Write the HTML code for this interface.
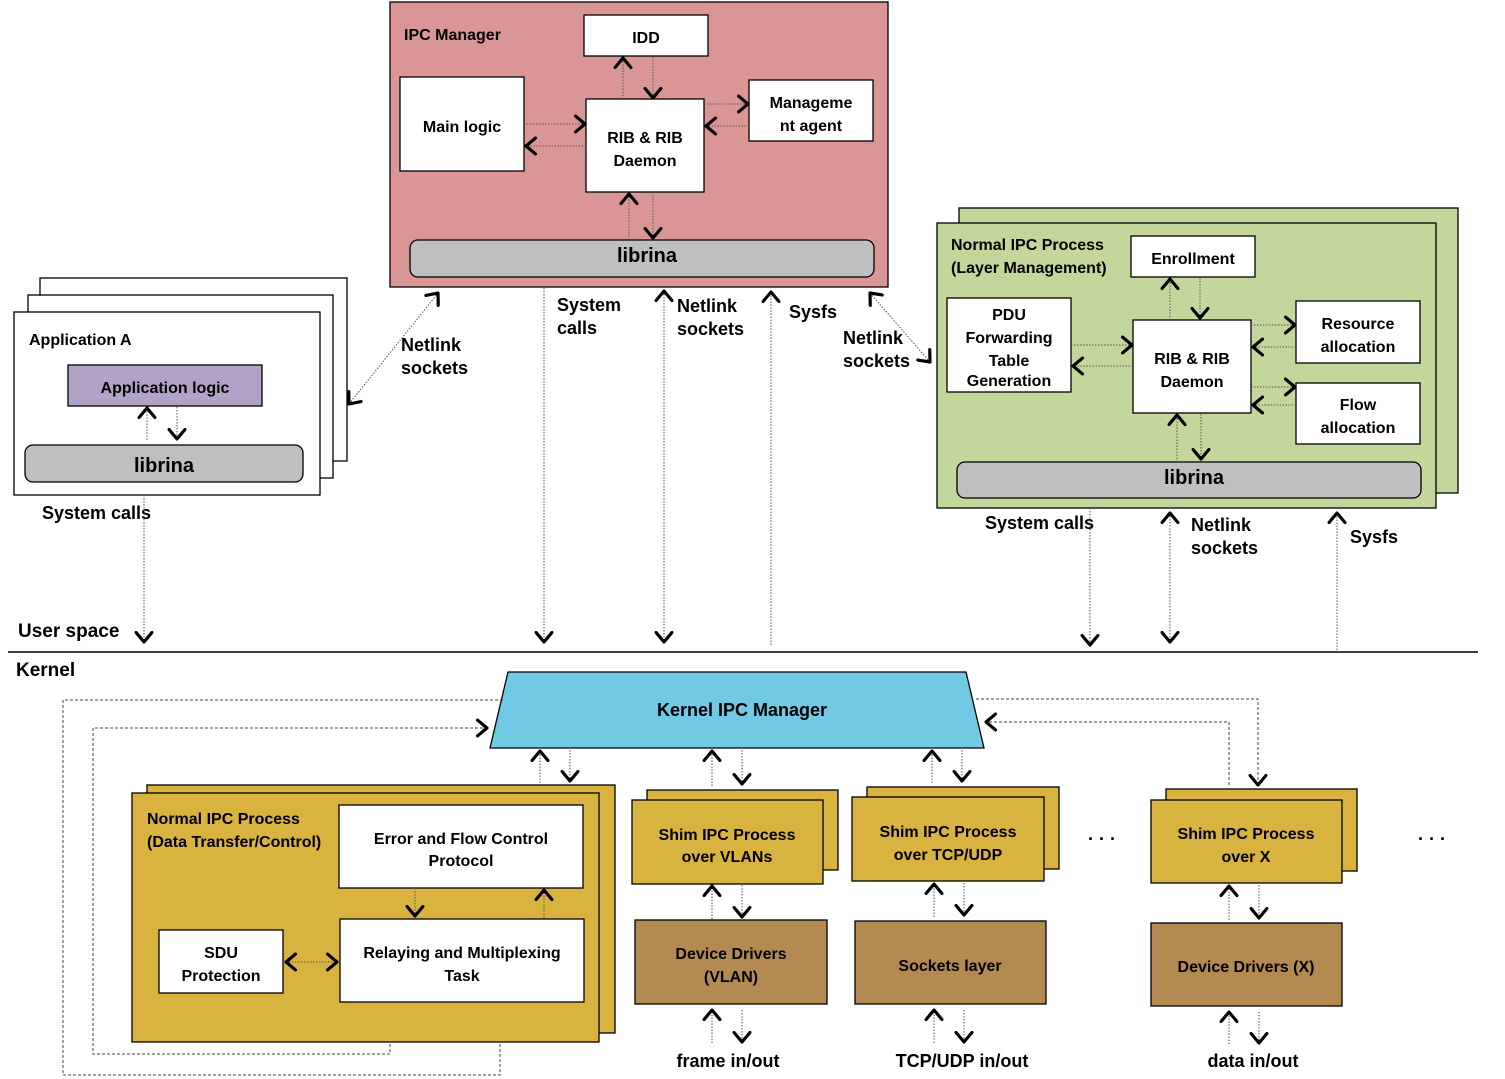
<!DOCTYPE html>
<html><head><meta charset="utf-8"><style>
html,body{margin:0;padding:0;background:#fff}
svg{display:block}
text{font-family:"Liberation Sans",Arial,sans-serif;font-weight:bold;fill:#000}
.b{font-size:16px}
.l{font-size:18px}
.lib{font-size:20px}
.d{stroke:#555;stroke-width:1;stroke-dasharray:1.5,1.5;fill:none}
.dk{stroke:#444;stroke-width:1;stroke-dasharray:3,2;fill:none}
.w{fill:#fff;stroke:#000;stroke-width:1.3}
</style></head><body>
<svg width="1505" height="1079" viewBox="0 0 1505 1079" xmlns="http://www.w3.org/2000/svg">
<defs>
<marker id="a" viewBox="0 0 12 18" refX="10.5" refY="9" markerWidth="13" markerHeight="19" markerUnits="userSpaceOnUse" orient="auto-start-reverse">
<path d="M1.5,1.5 L10.5,9 L1.5,16.5" fill="none" stroke="#000" stroke-width="3" stroke-linecap="round" stroke-linejoin="round"/>
</marker>
</defs>

<!-- IPC Manager -->
<rect x="390" y="2" width="498" height="285" fill="#d99694" stroke="#000" stroke-width="1.3"/>
<text x="404" y="40" class="b">IPC Manager</text>
<rect x="584" y="15" width="124" height="41" class="w"/><text x="646" y="43" class="b" text-anchor="middle">IDD</text>
<rect x="400" y="77" width="124" height="94" class="w"/><text x="462" y="132" class="b" text-anchor="middle">Main logic</text>
<rect x="586" y="99" width="118" height="93" class="w"/><text x="645" y="143" class="b" text-anchor="middle">RIB &amp; RIB</text><text x="645" y="166" class="b" text-anchor="middle">Daemon</text>
<rect x="749" y="80" width="124" height="61" class="w"/><text x="811" y="108" class="b" text-anchor="middle">Manageme</text><text x="811" y="131" class="b" text-anchor="middle">nt agent</text>
<rect x="410" y="240" width="464" height="37" rx="8" fill="#bfbfbf" stroke="#000" stroke-width="1.3"/><text x="647" y="262" class="lib" text-anchor="middle">librina</text>
<line x1="623" y1="99" x2="623" y2="58" class="d" marker-end="url(#a)"/>
<line x1="653" y1="57" x2="653" y2="98" class="d" marker-end="url(#a)"/>
<line x1="524" y1="124" x2="585" y2="124" class="d" marker-end="url(#a)"/>
<line x1="586" y1="146" x2="526" y2="146" class="d" marker-end="url(#a)"/>
<line x1="704" y1="104" x2="748" y2="104" class="d" marker-end="url(#a)"/>
<line x1="749" y1="126" x2="706" y2="126" class="d" marker-end="url(#a)"/>
<line x1="629" y1="240" x2="629" y2="194" class="d" marker-end="url(#a)"/>
<line x1="653" y1="192" x2="653" y2="238" class="d" marker-end="url(#a)"/>

<!-- Application A -->
<rect x="40" y="278" width="307" height="183" class="w"/>
<rect x="28" y="295" width="305" height="183" class="w"/>
<rect x="14" y="312" width="306" height="183" class="w"/>
<text x="29" y="345" class="b">Application A</text>
<rect x="68" y="365" width="194" height="41" fill="#b3a2c7" stroke="#000" stroke-width="1.3"/><text x="165" y="393" class="b" text-anchor="middle">Application logic</text>
<rect x="25" y="445" width="278" height="37" rx="8" fill="#bfbfbf" stroke="#000" stroke-width="1.3"/><text x="164" y="472" class="lib" text-anchor="middle">librina</text>
<line x1="147" y1="440" x2="147" y2="408" class="d" marker-end="url(#a)"/>
<line x1="177" y1="407" x2="177" y2="439" class="d" marker-end="url(#a)"/>
<line x1="349" y1="404" x2="438" y2="293" class="d" marker-start="url(#a)" marker-end="url(#a)"/>
<text x="401" y="351" class="l">Netlink</text><text x="401" y="374" class="l">sockets</text>
<text x="42" y="519" class="l">System calls</text>
<line x1="144" y1="495" x2="144" y2="642" class="d" marker-end="url(#a)"/>
<text x="18" y="637" class="l" style="font-size:19px">User space</text>
<line x1="8" y1="652" x2="1478" y2="652" stroke="#000" stroke-width="1.5"/>
<text x="16" y="676" class="l" style="font-size:19px">Kernel</text>

<!-- IPC manager vertical links -->
<line x1="544" y1="288" x2="544" y2="642" class="d" marker-end="url(#a)"/>
<text x="557" y="311" class="l">System</text><text x="557" y="334" class="l">calls</text>
<line x1="664" y1="291" x2="664" y2="642" class="d" marker-start="url(#a)" marker-end="url(#a)"/>
<text x="677" y="312" class="l">Netlink</text><text x="677" y="335" class="l">sockets</text>
<line x1="771" y1="645" x2="771" y2="292" class="d" marker-end="url(#a)"/>
<text x="789" y="318" class="l">Sysfs</text>
<line x1="870" y1="293" x2="930" y2="362" class="d" marker-start="url(#a)" marker-end="url(#a)"/>
<text x="843" y="344" class="l">Netlink</text><text x="843" y="367" class="l">sockets</text>

<!-- Green normal IPC -->
<rect x="959" y="208" width="499" height="285" fill="#c3d69b" stroke="#000" stroke-width="1.3"/>
<rect x="937" y="223" width="499" height="285" fill="#c3d69b" stroke="#000" stroke-width="1.3"/>
<text x="951" y="250" class="b">Normal IPC Process</text><text x="951" y="273" class="b">(Layer Management)</text>
<rect x="1131" y="236" width="124" height="41" class="w"/><text x="1193" y="264" class="b" text-anchor="middle">Enrollment</text>
<rect x="947" y="298" width="124" height="94" class="w"/>
<text x="1009" y="320" class="b" text-anchor="middle">PDU</text><text x="1009" y="343" class="b" text-anchor="middle">Forwarding</text><text x="1009" y="366" class="b" text-anchor="middle">Table</text><text x="1009" y="386" class="b" text-anchor="middle">Generation</text>
<rect x="1133" y="320" width="118" height="93" class="w"/><text x="1192" y="364" class="b" text-anchor="middle">RIB &amp; RIB</text><text x="1192" y="387" class="b" text-anchor="middle">Daemon</text>
<rect x="1296" y="301" width="124" height="62" class="w"/><text x="1358" y="329" class="b" text-anchor="middle">Resource</text><text x="1358" y="352" class="b" text-anchor="middle">allocation</text>
<rect x="1296" y="383" width="124" height="61" class="w"/><text x="1358" y="410" class="b" text-anchor="middle">Flow</text><text x="1358" y="433" class="b" text-anchor="middle">allocation</text>
<rect x="957" y="462" width="464" height="36" rx="8" fill="#bfbfbf" stroke="#000" stroke-width="1.3"/><text x="1194" y="484" class="lib" text-anchor="middle">librina</text>
<line x1="1170" y1="320" x2="1170" y2="279" class="d" marker-end="url(#a)"/>
<line x1="1200" y1="278" x2="1200" y2="318" class="d" marker-end="url(#a)"/>
<line x1="1071" y1="345" x2="1132" y2="345" class="d" marker-end="url(#a)"/>
<line x1="1133" y1="366" x2="1073" y2="366" class="d" marker-end="url(#a)"/>
<line x1="1251" y1="325" x2="1295" y2="325" class="d" marker-end="url(#a)"/>
<line x1="1296" y1="347" x2="1253" y2="347" class="d" marker-end="url(#a)"/>
<line x1="1251" y1="387" x2="1295" y2="387" class="d" marker-end="url(#a)"/>
<line x1="1296" y1="405" x2="1253" y2="405" class="d" marker-end="url(#a)"/>
<line x1="1177" y1="462" x2="1177" y2="415" class="d" marker-end="url(#a)"/>
<line x1="1201" y1="414" x2="1201" y2="459" class="d" marker-end="url(#a)"/>
<text x="985" y="529" class="l">System calls</text>
<line x1="1090" y1="508" x2="1090" y2="645" class="d" marker-end="url(#a)"/>
<line x1="1170" y1="513" x2="1170" y2="642" class="d" marker-start="url(#a)" marker-end="url(#a)"/>
<text x="1191" y="531" class="l">Netlink</text><text x="1191" y="554" class="l">sockets</text>
<line x1="1337" y1="650" x2="1337" y2="513" class="d" marker-end="url(#a)"/>
<text x="1350" y="543" class="l">Sysfs</text>

<!-- Kernel IPC Manager -->
<polygon points="508,672 966,672 984,748 490,748" fill="#72c9e4" stroke="#000" stroke-width="1.3"/>
<text x="742" y="716" class="l" text-anchor="middle">Kernel IPC Manager</text>
<polyline points="503,700 63,700 63,1075 500,1075 500,1005" class="dk" marker-end="url(#a)"/>
<polyline points="390,1004 390,1054 93,1054 93,728 487,728" class="dk" marker-end="url(#a)"/>
<polyline points="976,699 1258,699 1258,785" class="dk" marker-end="url(#a)"/>
<polyline points="1229,785 1229,722 986,722" class="dk" marker-end="url(#a)"/>

<!-- Normal IPC DT -->
<rect x="147" y="785" width="468" height="248" fill="#d9b340" stroke="#000" stroke-width="1.3"/>
<rect x="132" y="793" width="467" height="249" fill="#d9b340" stroke="#000" stroke-width="1.3"/>
<text x="147" y="824" class="b">Normal IPC Process</text><text x="147" y="847" class="b">(Data Transfer/Control)</text>
<rect x="339" y="805" width="244" height="83" class="w"/><text x="461" y="844" class="b" text-anchor="middle">Error and Flow Control</text><text x="461" y="866" class="b" text-anchor="middle">Protocol</text>
<rect x="159" y="930" width="124" height="63" class="w"/><text x="221" y="958" class="b" text-anchor="middle">SDU</text><text x="221" y="981" class="b" text-anchor="middle">Protection</text>
<rect x="340" y="919" width="244" height="83" class="w"/><text x="462" y="958" class="b" text-anchor="middle">Relaying and Multiplexing</text><text x="462" y="981" class="b" text-anchor="middle">Task</text>
<line x1="415" y1="888" x2="415" y2="916" class="d" marker-end="url(#a)"/>
<line x1="544" y1="918" x2="544" y2="890" class="d" marker-end="url(#a)"/>
<line x1="286" y1="962" x2="337" y2="962" class="d" marker-start="url(#a)" marker-end="url(#a)"/>
<line x1="540" y1="783" x2="540" y2="751" class="d" marker-end="url(#a)"/>
<line x1="570" y1="750" x2="570" y2="781" class="d" marker-end="url(#a)"/>

<!-- Shim VLAN -->
<rect x="647" y="790" width="191" height="80" fill="#d9b340" stroke="#000" stroke-width="1.3"/>
<rect x="632" y="800" width="191" height="84" fill="#d9b340" stroke="#000" stroke-width="1.3"/>
<text x="727" y="840" class="b" text-anchor="middle">Shim IPC Process</text><text x="727" y="862" class="b" text-anchor="middle">over VLANs</text>
<line x1="712" y1="786" x2="712" y2="751" class="d" marker-end="url(#a)"/>
<line x1="742" y1="750" x2="742" y2="784" class="d" marker-end="url(#a)"/>
<rect x="635" y="920" width="192" height="84" fill="#b38a52" stroke="#000" stroke-width="1.3"/>
<text x="731" y="959" class="b" text-anchor="middle">Device Drivers</text><text x="731" y="982" class="b" text-anchor="middle">(VLAN)</text>
<line x1="712" y1="919" x2="712" y2="886" class="d" marker-end="url(#a)"/>
<line x1="742" y1="885" x2="742" y2="917" class="d" marker-end="url(#a)"/>
<line x1="712" y1="1043" x2="712" y2="1010" class="d" marker-end="url(#a)"/>
<line x1="742" y1="1010" x2="742" y2="1042" class="d" marker-end="url(#a)"/>
<text x="728" y="1067" class="l" text-anchor="middle">frame in/out</text>

<!-- Shim TCP -->
<rect x="867" y="787" width="192" height="82" fill="#d9b340" stroke="#000" stroke-width="1.3"/>
<rect x="852" y="797" width="192" height="84" fill="#d9b340" stroke="#000" stroke-width="1.3"/>
<text x="948" y="837" class="b" text-anchor="middle">Shim IPC Process</text><text x="948" y="860" class="b" text-anchor="middle">over TCP/UDP</text>
<line x1="932" y1="783" x2="932" y2="751" class="d" marker-end="url(#a)"/>
<line x1="962" y1="750" x2="962" y2="781" class="d" marker-end="url(#a)"/>
<rect x="855" y="921" width="191" height="83" fill="#b38a52" stroke="#000" stroke-width="1.3"/>
<text x="950" y="971" class="b" text-anchor="middle">Sockets layer</text>
<line x1="934" y1="917" x2="934" y2="884" class="d" marker-end="url(#a)"/>
<line x1="964" y1="883" x2="964" y2="915" class="d" marker-end="url(#a)"/>
<line x1="934" y1="1043" x2="934" y2="1010" class="d" marker-end="url(#a)"/>
<line x1="964" y1="1010" x2="964" y2="1042" class="d" marker-end="url(#a)"/>
<text x="962" y="1067" class="l" text-anchor="middle">TCP/UDP in/out</text>

<text x="1102" y="845" class="l" text-anchor="middle">· · ·</text>

<!-- Shim X -->
<rect x="1166" y="789" width="191" height="82" fill="#d9b340" stroke="#000" stroke-width="1.3"/>
<rect x="1151" y="800" width="191" height="83" fill="#d9b340" stroke="#000" stroke-width="1.3"/>
<text x="1246" y="839" class="b" text-anchor="middle">Shim IPC Process</text><text x="1246" y="862" class="b" text-anchor="middle">over X</text>
<rect x="1151" y="923" width="191" height="83" fill="#b38a52" stroke="#000" stroke-width="1.3"/>
<text x="1246" y="972" class="b" text-anchor="middle">Device Drivers (X)</text>
<line x1="1229" y1="920" x2="1229" y2="886" class="d" marker-end="url(#a)"/>
<line x1="1259" y1="885" x2="1259" y2="918" class="d" marker-end="url(#a)"/>
<line x1="1229" y1="1044" x2="1229" y2="1012" class="d" marker-end="url(#a)"/>
<line x1="1259" y1="1012" x2="1259" y2="1043" class="d" marker-end="url(#a)"/>
<text x="1253" y="1067" class="l" text-anchor="middle">data in/out</text>

<text x="1432" y="845" class="l" text-anchor="middle">· · ·</text>
</svg>
</body></html>
